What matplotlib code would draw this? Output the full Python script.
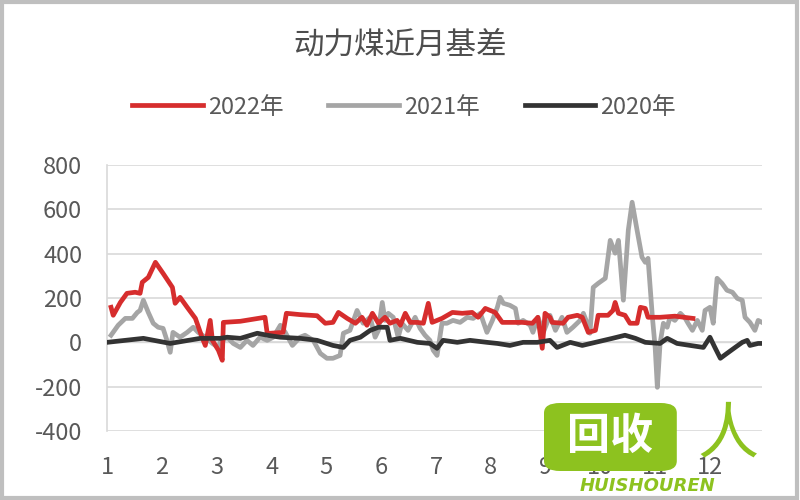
import matplotlib
matplotlib.use("Agg")
import matplotlib.pyplot as plt
from matplotlib.patches import Rectangle, FancyBboxPatch

plt.rcParams["font.family"] = ["Noto Sans CJK SC", "DejaVu Sans"]
plt.rcParams["axes.unicode_minus"] = False

# 月份刻度
months = [1, 2, 3, 4, 5, 6, 7, 8, 9, 10, 11, 12]
month_labels = [str(m) for m in months]

# 2022年 (x 为月份位置)
x_2022 = [1.07, 1.11, 1.24, 1.36, 1.51, 1.60, 1.64, 1.75, 1.88, 2.02, 2.19, 2.24, 2.33, 2.46,
          2.61, 2.73, 2.79, 2.88, 2.92, 3.03, 3.10, 3.12, 3.43, 3.88, 3.92, 4.21, 4.27, 4.52,
          4.83, 4.98, 5.12, 5.22, 5.38, 5.53, 5.65, 5.74, 5.84, 5.95, 6.07, 6.16, 6.29, 6.35,
          6.44, 6.53, 6.66, 6.77, 6.86, 6.93, 7.11, 7.30, 7.48, 7.66, 7.77, 7.90, 8.08, 8.21,
          8.39, 8.57, 8.76, 8.86, 8.94, 8.99, 9.08, 9.12, 9.32, 9.41, 9.58, 9.67, 9.78, 9.91,
          9.96, 10.14, 10.23, 10.27, 10.33, 10.45, 10.54, 10.67, 10.73, 10.82, 10.87, 11.09,
          11.36, 11.69]
y_2022 = [158, 122, 180, 221, 226, 221, 271, 293, 361, 311, 248, 176, 203, 158,
          108, 23, -14, 99, 9, -36, -81, 90, 95, 113, 40, 45, 131, 125,
          120, 86, 90, 135, 108, 86, 113, 77, 131, 86, 113, 86, 99, 77,
          131, 90, 90, 86, 176, 90, 108, 135, 131, 135, 113, 153, 135, 90,
          90, 90, 86, 113, -27, 131, 113, 90, 86, 113, 122, 113, 45, 54,
          122, 122, 144, 180, 131, 122, 86, 86, 158, 153, 113, 113,
          118, 108]

# 2021年
x_2021 = [1.07, 1.20, 1.33, 1.46, 1.55, 1.60, 1.66, 1.75, 1.84, 1.93, 2.02, 2.09, 2.15, 2.20,
          2.33, 2.46, 2.57, 2.66, 2.79, 2.92, 3.03, 3.06, 3.19, 3.30, 3.43, 3.55, 3.66, 3.79,
          3.92, 4.03, 4.16, 4.25, 4.38, 4.52, 4.61, 4.76, 4.89, 5.01, 5.12, 5.25, 5.31, 5.43,
          5.56, 5.67, 5.80, 5.89, 5.95, 6.02, 6.07, 6.13, 6.22, 6.31, 6.38, 6.49, 6.62, 6.71,
          6.80, 6.89, 6.95, 7.02, 7.11, 7.20, 7.31, 7.44, 7.57, 7.68, 7.81, 7.93, 8.03, 8.12,
          8.17, 8.23, 8.35, 8.45, 8.50, 8.59, 8.72, 8.77, 8.86, 8.96, 9.08, 9.18, 9.30, 9.39,
          9.50, 9.63, 9.69, 9.76, 9.81, 9.87, 9.96, 10.09, 10.18, 10.27, 10.33, 10.42, 10.51,
          10.58, 10.67, 10.76, 10.82, 10.87, 10.95, 11.00, 11.04, 11.09, 11.15, 11.22, 11.27,
          11.36, 11.46, 11.55, 11.60, 11.68, 11.77, 11.86, 11.91, 12.00, 12.06, 12.13, 12.22,
          12.31, 12.41, 12.50, 12.59, 12.64, 12.73, 12.82, 12.88, 12.95]
y_2021 = [32, 77, 108, 108, 135, 144, 190, 135, 86, 68, 63, 9, -45, 45,
          23, 45, 68, 45, 23, -5, -23, 0, 23, -5, -23, 9, -14, 23,
          9, 23, 77, 45, -14, 23, 32, 9, -50, -72, -72, -59, 41, 54,
          144, 86, 113, 23, 54, 180, 99, 131, 113, 23, 86, 54, 113, 63,
          32, 9, -36, -59, 86, 86, 99, 90, 113, 108, 131, 45, 99, 158,
          203, 176, 167, 153, 86, 99, 77, 45, 113, 45, 122, 54, 113, 45,
          68, 99, 131, 86, 41, 248, 266, 289, 460, 402, 460, 190, 506,
          632, 506, 384, 361, 379, 113, -23, -203, -5, 86, 68, 113,
          99, 131, 108, 86, 54, 99, 54, 144, 158, 86, 289, 266,
          235, 226, 198, 190, 113, 90, 54, 99, 90]

# 2020年
x_2020 = [1.00, 1.33, 1.66, 2.15, 2.48, 2.70, 3.06, 3.19, 3.43, 3.74, 3.92, 4.16, 4.52, 4.83,
          5.12, 5.31, 5.43, 5.62, 5.80, 5.95, 6.11, 6.16, 6.35, 6.66, 6.89, 7.02, 7.13, 7.39,
          7.62, 7.93, 8.12, 8.35, 8.59, 8.85, 9.08, 9.21, 9.45, 9.67, 9.91, 10.22, 10.45, 10.64,
          10.82, 11.09, 11.22, 11.40, 11.64, 11.88, 12.00, 12.09, 12.19, 12.31, 12.46, 12.59,
          12.68, 12.73, 12.88, 12.95]
y_2020 = [0, 9, 18, -5, 9, 18, 18, 23, 18, 41, 32, 23, 18, 9,
          -14, -23, 9, 23, 54, 68, 68, 9, 18, 0, -5, -27, 9, 0,
          9, 0, -5, -14, 0, 0, 9, -23, 0, -14, 0, 18, 32, 18,
          0, -5, 18, -5, -14, -23, 23, -23, -72, -50, -23, 0,
          9, -14, -5, -5]

text_color = "#595959"

fig = plt.figure(figsize=(8, 5), dpi=100)
fig.patches.append(Rectangle((0.002, 0.004), 0.994, 0.992, transform=fig.transFigure,
                             fill=False, edgecolor="#BFBFBF", linewidth=3))
ax = fig.add_axes([0.134, 0.138, 0.8185, 0.532])

ax.plot(x_2022, y_2022, color="#D62D2D", linewidth=3.4, label="2022年", zorder=4)
ax.plot(x_2021, y_2021, color="#A5A5A5", linewidth=3.4, label="2021年", zorder=3)
ax.plot(x_2020, y_2020, color="#333333", linewidth=3.4, label="2020年", zorder=5)

ax.set_xlim(1, 12.95)
ax.set_ylim(-400, 800)
ax.set_yticks(range(-400, 801, 200))
ax.set_xticks(months)
ax.set_xticklabels(month_labels)
ax.grid(axis="y", color="#D9D9D9", linewidth=1.2)
ax.axhline(0, color="#D9D9D9", linewidth=1, zorder=1)
ax.set_axisbelow(True)
for s in ["top", "right", "bottom"]:
    ax.spines[s].set_visible(False)
ax.spines["left"].set_color("#D9D9D9")
ax.spines["left"].set_linewidth(1.2)
ax.tick_params(axis="both", length=0, labelsize=17, colors=text_color)
ax.tick_params(axis="y", pad=18)
ax.tick_params(axis="x", pad=18)

fig.text(0.5, 0.91, "动力煤近月基差", ha="center", va="center", fontsize=22, color="#4D4D4D")
fig.legend(loc="center", bbox_to_anchor=(0.505, 0.786), ncol=3, frameon=False, fontsize=17,
           handlelength=3.0, handletextpad=0.2, columnspacing=1.9, labelcolor=text_color)

# 水印
green = "#8DC21F"
fig.patches.append(FancyBboxPatch((0.686, 0.064), 0.154, 0.124, transform=fig.transFigure,
                                  boxstyle="round,pad=0.006,rounding_size=0.02",
                                  facecolor=green, edgecolor="none", zorder=10))
fig.text(0.763, 0.128, "回收", ha="center", va="center", fontsize=31, fontweight="bold",
         color="white", zorder=11)
fig.text(0.81, 0.028, "HUISHOUREN", ha="center", va="center", fontsize=13, fontweight="bold",
         style="italic", color=green, family="DejaVu Sans", zorder=11)
fig.text(0.91, 0.13, "人", ha="center", va="center", fontsize=44, color=green, zorder=11)

fig.savefig("out.png", dpi=100)
